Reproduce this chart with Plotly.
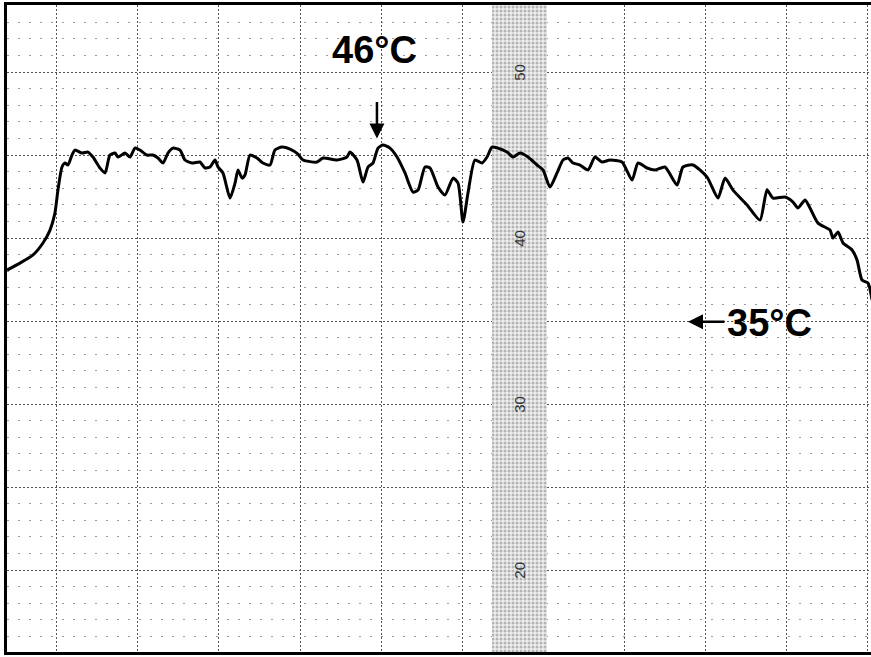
import plotly.graph_objects as go

# ---- data (time in chart divisions, temperature in deg C) ----
time_div = [-0.617, -0.457, -0.296, -0.173, -0.086, -0.025, 0.012, 0.062, 0.099, 0.136,
            0.185, 0.222, 0.309, 0.383, 0.444, 0.531, 0.593, 0.654, 0.716, 0.753,
            0.840, 0.901, 0.963, 1.025, 1.111, 1.185, 1.247, 1.309, 1.370, 1.432,
            1.519, 1.580, 1.667, 1.765, 1.827, 1.889, 1.951, 1.988, 2.049, 2.136,
            2.198, 2.235, 2.284, 2.321, 2.383, 2.469, 2.543, 2.630, 2.691, 2.778,
            2.877, 2.975, 3.037, 3.210, 3.284, 3.457, 3.580, 3.617, 3.704, 3.778,
            3.840, 3.901, 3.963, 4.025, 4.111, 4.198, 4.296, 4.395, 4.457, 4.543,
            4.605, 4.704, 4.790, 4.889, 4.951, 5.012, 5.074, 5.160, 5.247, 5.309,
            5.370, 5.444, 5.556, 5.630, 5.716, 5.815, 5.926, 6.000, 6.086, 6.173,
            6.247, 6.309, 6.370, 6.457, 6.556, 6.642, 6.728, 6.827, 6.975, 7.099,
            7.173, 7.284, 7.383, 7.506, 7.654, 7.728, 7.852, 8.025, 8.160, 8.247,
            8.346, 8.519, 8.679, 8.765, 8.840, 8.988, 9.086, 9.148, 9.235, 9.296,
            9.395, 9.543, 9.580, 9.642, 9.704, 9.815, 9.877, 9.938, 10.012, 10.062]
temp_c = [38.07, 38.49, 38.98, 39.70, 40.48, 41.51, 42.89, 44.28, 44.52, 44.40,
          45.00, 45.30, 45.12, 45.18, 44.88, 44.22, 43.92, 45.00, 45.12, 44.88,
          45.12, 44.88, 45.42, 45.30, 45.00, 45.00, 44.82, 44.52, 45.12, 45.42,
          45.30, 44.70, 44.52, 44.58, 44.22, 44.28, 44.70, 44.28, 43.92, 42.41,
          43.31, 44.10, 43.61, 43.80, 45.00, 44.82, 44.52, 44.40, 45.30, 45.48,
          45.36, 45.06, 44.70, 44.58, 44.82, 44.70, 44.88, 45.18, 44.70, 43.37,
          44.28, 44.52, 45.42, 45.60, 45.42, 44.88, 43.92, 42.77, 42.89, 44.28,
          44.22, 43.07, 42.59, 43.61, 43.31, 40.96, 42.71, 44.70, 44.52, 44.88,
          45.48, 45.42, 45.18, 44.88, 45.12, 44.88, 44.40, 44.10, 43.07, 43.92,
          44.70, 44.82, 44.52, 44.40, 44.10, 44.88, 44.58, 44.70, 44.58, 43.49,
          44.52, 44.22, 44.10, 44.28, 43.19, 44.28, 44.40, 43.67, 42.41, 43.61,
          42.89, 41.99, 41.08, 42.89, 42.41, 42.47, 42.17, 41.81, 42.29, 41.81,
          40.90, 40.48, 40.00, 40.36, 39.70, 39.28, 38.67, 37.47, 37.29, 36.27]

x_range = [-0.617, 10.049]
y_range = [15.06, 54.04]
scale_band = [5.37, 6.05]          # printed scale strip on the chart paper
scale_labels = ["50", "40", "30", "20"]
scale_values = [50, 40, 30, 20]
scale_label_x = 5.70
peak_label = "46°C"
peak_time, peak_temp = 3.95, 46.0
end_label = "35°C"
end_time, end_temp = 7.79, 34.95

FONT_BIG = "Liberation Sans Narrow, Arial Narrow, Liberation Sans, sans-serif"

fig = go.Figure()

# printed scale strip (stippled)
fig.add_trace(go.Bar(
    x=[(scale_band[0] + scale_band[1]) / 2], y=[y_range[1] - y_range[0]],
    base=[y_range[0]], width=[scale_band[1] - scale_band[0]],
    marker=dict(color="#eeeeee", line=dict(width=0),
                pattern=dict(shape=".", fgcolor="#7a7a7a", bgcolor="#eeeeee",
                             size=4, solidity=0.45)),
    hoverinfo="skip", showlegend=False))

# recorded temperature trace
fig.add_trace(go.Scatter(
    x=time_div, y=temp_c, mode="lines",
    line=dict(color="black", width=3, shape="spline", smoothing=0.6),
    showlegend=False))

annotations = []
for lab, val in zip(scale_labels, scale_values):
    annotations.append(dict(x=scale_label_x, y=val, text=lab, showarrow=False,
                            textangle=-90, font=dict(family="Liberation Sans", size=15, color="#333")))

annotations.append(dict(x=3.92, y=51.3, text=peak_label, showarrow=False,
                        font=dict(family=FONT_BIG, size=38, color="black", weight="bold")))
annotations.append(dict(x=peak_time, y=peak_temp, text="", showarrow=True,
                        ax=0, ay=-38, arrowhead=2, arrowsize=1.2, arrowwidth=2.5,
                        arrowcolor="black"))
annotations.append(dict(x=8.80, y=34.9, text=end_label, showarrow=False,
                        font=dict(family=FONT_BIG, size=38, color="black", weight="bold")))
annotations.append(dict(x=end_time, y=end_temp, text="", showarrow=True,
                        ax=38, ay=0, arrowhead=2, arrowsize=1.2, arrowwidth=2.5,
                        arrowcolor="black"))

fig.update_layout(
    width=871, height=657,
    margin=dict(l=7, r=0, t=5, b=5),
    paper_bgcolor="white", plot_bgcolor="white",
    annotations=annotations,
    bargap=0,
    xaxis=dict(range=x_range, dtick=1, tick0=0, showticklabels=False, ticks="",
               showgrid=True, gridcolor="#555", gridwidth=1, griddash="2px,2px",
               zeroline=False, showline=True, linecolor="black", linewidth=3, mirror=True),
    yaxis=dict(range=y_range, dtick=5, tick0=0, showticklabels=False, ticks="",
               showgrid=True, gridcolor="#555", gridwidth=1, griddash="2px,2px",
               minor=dict(dtick=1, showgrid=True, gridcolor="#999", gridwidth=1,
                          griddash="2px,9px"),
               zeroline=False, showline=True, linecolor="black", linewidth=3),
)

fig.write_html("out.html")
